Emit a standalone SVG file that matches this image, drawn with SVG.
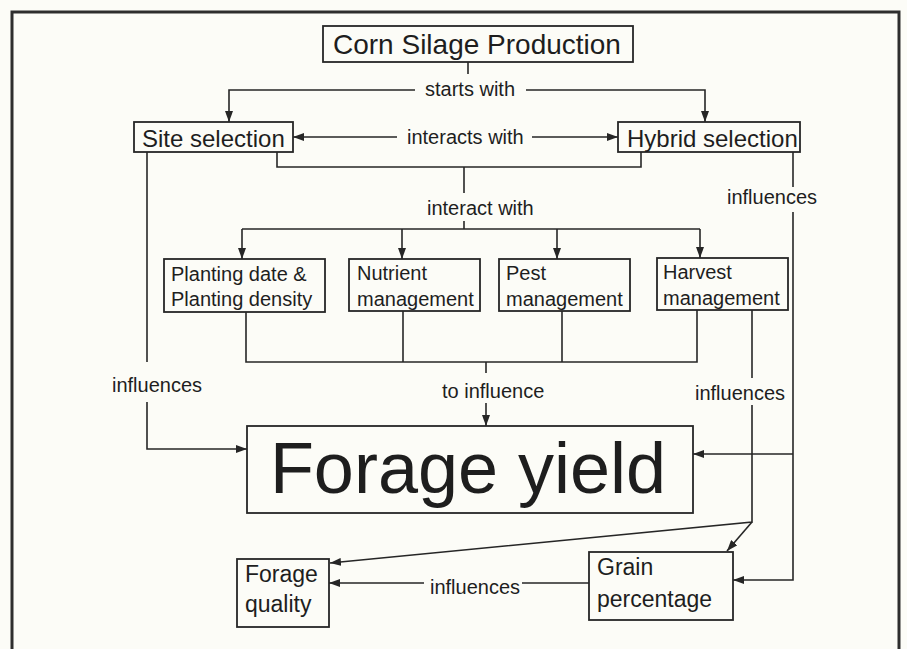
<svg xmlns="http://www.w3.org/2000/svg" width="907" height="649" viewBox="0 0 907 649">
<style>
.box{fill:none;stroke:#262626;stroke-width:1.8}
.ln{fill:none;stroke:#262626;stroke-width:1.6}
.ar{marker-end:url(#ah)}
text{font-family:"Liberation Sans",Arial,sans-serif;fill:#1e1e1e}
.lab{font-size:20px}
.n20{font-size:20px}
.n23{font-size:23px}
.n24{font-size:24px}
</style>
<defs>
<marker id="ah" markerUnits="userSpaceOnUse" markerWidth="11" markerHeight="8" refX="11" refY="4" orient="auto">
<path d="M0,0 L11,4 L0,8 z" fill="#262626"/>
</marker>
</defs>
<rect width="907" height="649" fill="#fcfcf7"/>
<path d="M12,649 V12 H899 V649" fill="none" stroke="#2e2e2e" stroke-width="3"/>

<g id="connectors">
<path class="ln" d="M468,62 V74"/>
<path class="ln ar" d="M415,90 H229 V122"/>
<path class="ln ar" d="M526,90 H705 V122"/>
<path class="ln ar" d="M397,137 H293"/>
<path class="ln ar" d="M532,137 H618"/>
<path class="ln" d="M277,152 V167 H641 V152"/>
<path class="ln" d="M464,167 V193"/>
<path class="ln" d="M464,221 V229"/>
<path class="ln" d="M242,229 H700"/>
<path class="ln ar" d="M242,229 V259"/>
<path class="ln ar" d="M402,229 V259"/>
<path class="ln ar" d="M557,229 V259"/>
<path class="ln ar" d="M700,229 V258"/>
<path class="ln" d="M246,312 V362 H697 V310"/>
<path class="ln" d="M403,311 V362"/>
<path class="ln" d="M562,311 V362"/>
<path class="ln" d="M486,362 V373"/>
<path class="ln ar" d="M486,403 V426"/>
<path class="ln" d="M147,152 V362"/>
<path class="ln ar" d="M147,402 V449 H247"/>
<path class="ln" d="M793,152 V187"/>
<path class="ln ar" d="M793,212 V580 H733"/>
<path class="ln ar" d="M793,454 H693"/>
<path class="ln" d="M752,310 V378"/>
<path class="ln ar" d="M752,405 V522 L330,563"/>
<path class="ln ar" d="M752,522 L727,551"/>
<path class="ln" d="M589,583 H522"/>
<path class="ln ar" d="M424,583 H329"/>
<text class="lab" x="425" y="96">starts with</text>
<text class="lab" x="407" y="144">interacts with</text>
<text class="lab" x="427" y="215">interact with</text>
<text class="lab" x="727" y="204">influences</text>
<text class="lab" x="112" y="392">influences</text>
<text class="lab" x="442" y="398">to influence</text>
<text class="lab" x="695" y="400">influences</text>
<text class="lab" x="430" y="594">influences</text>
</g>

<g id="corn">
<rect class="box" x="323" y="26" width="310" height="36"/>
<text x="333" y="54" font-size="28">Corn Silage Production</text>
</g>
<g id="site">
<rect class="box" x="134" y="122" width="159" height="30"/>
<text class="n24" x="142" y="147">Site selection</text>
</g>
<g id="hybrid">
<rect class="box" x="618" y="122" width="182" height="30"/>
<text class="n24" x="627" y="147">Hybrid selection</text>
</g>
<g id="planting">
<rect class="box" x="164" y="259" width="161" height="53"/>
<text class="n20" x="171" y="281">Planting date &amp;</text>
<text class="n20" x="171" y="306">Planting density</text>
</g>
<g id="nutrient">
<rect class="box" x="349" y="259" width="131" height="52"/>
<text class="n20" x="357" y="280">Nutrient</text>
<text class="n20" x="357" y="306">management</text>
</g>
<g id="pest">
<rect class="box" x="499" y="259" width="131" height="52"/>
<text class="n20" x="506" y="280">Pest</text>
<text class="n20" x="506" y="306">management</text>
</g>
<g id="harvest">
<rect class="box" x="657" y="258" width="131" height="52"/>
<text class="n20" x="663" y="279">Harvest</text>
<text class="n20" x="663" y="305">management</text>
</g>
<g id="forage-yield">
<rect class="box" x="247" y="426" width="446" height="87"/>
<text x="468" y="493" font-size="72" text-anchor="middle">Forage yield</text>
</g>
<g id="forage-quality">
<rect class="box" x="237" y="559" width="92" height="68"/>
<text class="n23" x="245" y="582">Forage</text>
<text class="n23" x="245" y="612">quality</text>
</g>
<g id="grain">
<rect class="box" x="589" y="552" width="144" height="68"/>
<text class="n23" x="597" y="575">Grain</text>
<text class="n23" x="597" y="607">percentage</text>
</g>
</svg>
